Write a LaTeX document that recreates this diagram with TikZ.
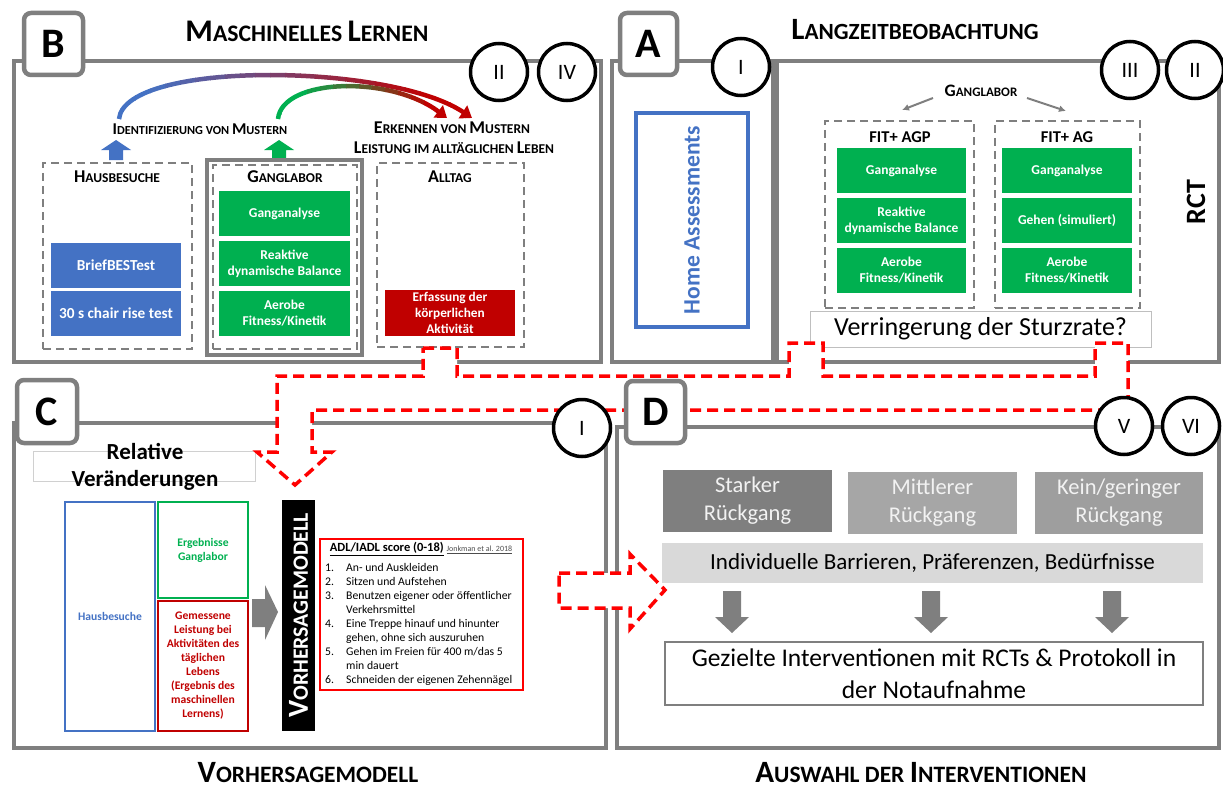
\documentclass[tikz,border=0pt]{standalone}
\usepackage{fontspec}
\setmainfont{Carlito}
\usetikzlibrary{arrows.meta,fit,calc}
\definecolor{fgray}{HTML}{7F7F7F}
\definecolor{cblue}{HTML}{4472C4}
\definecolor{cgreen}{HTML}{00B050}
\definecolor{cred}{HTML}{C00000}
\definecolor{redc}{HTML}{FF0000}
\definecolor{mgray}{HTML}{A6A6A6}
\definecolor{lgray}{HTML}{D9D9D9}
\definecolor{tlight}{HTML}{F2F2F2}
\definecolor{relgray}{HTML}{D0D0D0}
\definecolor{vgray}{HTML}{BFBFBF}
\newcommand\mysz[2]{{\fontsize{#1}{#1}\selectfont #2}}
\begin{document}
\begin{tikzpicture}[x=1pt,y=-1pt,every node/.style={inner sep=0pt},
  frame/.style={draw=fgray,line width=4.5pt},
  lblbox/.style={draw=fgray,line width=4.5pt,fill=white,rounded corners=7pt},
  lbltext/.style={font=\bfseries\fontsize{42}{42}\selectfont},
  numc/.style={circle,draw=black,line width=3.5pt,fill=white,minimum size=57pt,font=\fontsize{22}{22}\selectfont},
  dbox/.style={draw=fgray,line width=2.5pt,dash pattern=on 8pt off 5pt},
  gbox/.style={fill=cgreen},
  gtext/.style={text=white,align=center,font=\bfseries\fontsize{13.5}{16}\selectfont},
  btext/.style={text=white,font=\bfseries\fontsize{15.3}{16}\selectfont},
  dgtext/.style={text=tlight,align=center,font=\fontsize{22.5}{28}\selectfont},
  redarrow/.style={draw=redc,line width=3.5pt,dash pattern=on 11pt off 6pt,fill=white},
  cbox/.style={line width=2.5pt},
  ctext/.style={align=center,font=\bfseries\fontsize{11.6}{14}\selectfont},
  ttl/.style={font=\bfseries},
  thinarrow/.style={draw=fgray,line width=2pt,-{Latex[length=7pt,width=7pt]}}
]
\useasboundingbox (0,0) rectangle (1223,789);

% ================= Panel B =================
\draw[frame] (14,61) rectangle (601,362);
\node[ttl] (tB) at (307,31) {\mysz{31.5}{M}\mysz{23.7}{ASCHINELLES }\mysz{31.5}{L}\mysz{23.7}{ERNEN}};

\coordinate (ab1) at (119,119);
\coordinate (ab2) at (472,118);
\coordinate (ag1) at (278,119);
\coordinate (ag2) at (447,118);
\foreach \i in {0,...,25}{
  \pgfmathsetmacro\xa{105+\i*15}
  \pgfmathtruncatemacro\pc{max(0,min(100,100-(\xa+7-150)/2.8))}
  \begin{scope}
    \clip (\xa,50) rectangle ({\xa+15.5},130);
    \draw[line width=4.5pt,draw=cblue!\pc!cred,-{Triangle[length=11pt,width=15pt]}] (ab1) .. controls (125,60) and (390,63) .. (ab2);
  \end{scope}
}
\foreach \i in {0,...,14}{
  \pgfmathsetmacro\xa{268+\i*13}
  \pgfmathtruncatemacro\pc{max(0,min(100,100-(\xa+6-300)/1.3))}
  \begin{scope}
    \clip (\xa,60) rectangle ({\xa+13.5},130);
    \draw[line width=4.5pt,draw=cgreen!\pc!cred,-{Triangle[length=11pt,width=15pt]}] (ag1) .. controls (282,78) and (390,75) .. (ag2);
  \end{scope}
}

\node[ttl] (idm) at (200,129) {\mysz{16.5}{I}\mysz{12.3}{DENTIFIZIERUNG VON }\mysz{16.5}{M}\mysz{12.3}{USTERN}};
\node[ttl] (erk) at (452,128) {\mysz{18}{E}\mysz{13.5}{RKENNEN VON }\mysz{18}{M}\mysz{13.5}{USTERN}};
\node[ttl] (leist) at (454,148) {\mysz{18}{L}\mysz{13.5}{EISTUNG IM ALLTÄGLICHEN }\mysz{18}{L}\mysz{13.5}{EBEN}};

\fill[cblue] (109,160) -- (109,150) -- (101,150) -- (116,140) -- (131,150) -- (123,150) -- (123,160) -- cycle;
\fill[cgreen] (272,160) -- (272,150) -- (264,150) -- (279,140) -- (294,150) -- (286,150) -- (286,160) -- cycle;

\node[dbox,fit={(43,163)(192,349)}] (hbox) {};
\node[ttl] (hbt) at (117,177) {\mysz{18}{H}\mysz{13.5}{AUSBESUCHE}};
\node[fill=cblue,fit={(51,243)(181,288)}] (brief) {};
\node[btext] at (brief.center) {BriefBESTest};
\node[fill=cblue,fit={(51,291)(181,336)}] (chair) {};
\node[btext] at (chair.center) {30 s chair rise test};

\node[draw=fgray,line width=4pt,fit={(207,160)(362,355)}] (glout) {};
\node[dbox,fit={(213,165)(357,349)}] (glin) {};
\node[ttl] (glt) at (285,177) {\mysz{18}{G}\mysz{13.5}{ANGLABOR}};
\node[gbox,fit={(219,191)(350,236)}] (g1) {};
\node[gtext] at (g1.center) {Ganganalyse};
\node[gbox,fit={(219,241)(350,286)}] (g2) {};
\node[gtext] at (g2.center) {Reaktive\\dynamische Balance};
\node[gbox,fit={(219,291)(350,336)}] (g3) {};
\node[gtext] at (g3.center) {Aerobe\\Fitness/Kinetik};

\node[dbox,fit={(377,163)(524,347)}] (alb) {};
\node[ttl] (alt) at (450,177) {\mysz{18}{A}\mysz{13.5}{LLTAG}};
\node[fill=cred,fit={(385,290)(515,336)}] (erf) {};
\node[text=white,align=center,font=\bfseries\fontsize{13.3}{16}\selectfont] at (erf.center) {Erfassung der\\körperlichen\\Aktivität};

% ================= Panel A =================
\draw[frame] (612,61) rectangle (773,362);
\draw[frame] (777,61) rectangle (1219,362);
\node[ttl] (tA) at (915,30) {\mysz{31}{L}\mysz{23.2}{ANGZEITBEOBACHTUNG}};
\node[draw=cblue,line width=4pt,fit={(636,113)(748,327)}] (home) {};
\node[rotate=90,text=cblue,font=\bfseries\fontsize{23.5}{23.5}\selectfont] (homet) at (home.center) {Home Assessments};

\node[ttl] (gA) at (981,91) {\mysz{17.5}{G}\mysz{13}{ANGLABOR}};
\coordinate (ga1) at (933,98);
\coordinate (ga2) at (902,110);
\coordinate (ga3) at (1027,98);
\coordinate (ga4) at (1066,111);
\draw[thinarrow] (ga1) -- (ga2);
\draw[thinarrow] (ga3) -- (ga4);

\node[dbox,fit={(825,121)(974,308)}] (agp) {};
\node[font=\bfseries\fontsize{16.5}{16.5}\selectfont] (agpt) at (900,137) {FIT+ AGP};
\node[gbox,fit={(837,148)(966,193)}] (a1) {};
\node[gtext] at (a1.center) {Ganganalyse};
\node[gbox,fit={(837,198)(966,243)}] (a2) {};
\node[gtext] at (a2.center) {Reaktive\\dynamische Balance};
\node[gbox,fit={(837,248)(966,293)}] (a3) {};
\node[gtext] at (a3.center) {Aerobe\\Fitness/Kinetik};

\node[dbox,fit={(995,121)(1140,308)}] (ag) {};
\node[font=\bfseries\fontsize{16.5}{16.5}\selectfont] (agt) at (1067,137) {FIT+ AG};
\node[gbox,fit={(1002,148)(1132,193)}] (b1) {};
\node[gtext] at (b1.center) {Ganganalyse};
\node[gbox,fit={(1002,198)(1132,243)}] (b2) {};
\node[gtext] at (b2.center) {Gehen (simuliert)};
\node[gbox,fit={(1002,248)(1132,293)}] (b3) {};
\node[gtext] at (b3.center) {Aerobe\\Fitness/Kinetik};

\node[rotate=90,font=\bfseries\fontsize{28}{28}\selectfont] (rct) at (1196,202) {RCT};
\node[draw=vgray,line width=1pt,fill=white,fit={(810,311)(1151,347)}] (verr) {};
\node[font=\fontsize{26}{26}\selectfont] at (verr.center) {Verringerung der Sturzrate?};

% ================= Panel C =================
\draw[frame] (14,423) rectangle (606,748);
\node[draw=relgray,line width=1pt,fit={(33,451)(255,481)}] (relb) {};
\node[align=center,font=\bfseries\fontsize{23}{27}\selectfont] (relt) at (145,467) {Relative\\Veränderungen};
\node[cbox,draw=cblue,fit={(65,502)(155,731)}] (hbs) {};
\node[ctext,text=cblue] at (hbs.center) {Hausbesuche};
\node[cbox,draw=cgreen,fit={(158,502)(248,598)}] (erg) {};
\node[ctext,text=cgreen] at (erg.center) {Ergebnisse\\Ganglabor};
\node[cbox,draw=cred,fit={(158,601)(248,731)}] (gem) {};
\node[ctext,text=cred] at (gem.center) {Gemessene\\Leistung bei\\Aktivitäten des\\täglichen\\Lebens\\(Ergebnis des\\maschinellen\\Lernens)};
\fill[fgray] (252,599) -- (265,599) -- (265,585) -- (278,612) -- (265,640) -- (265,627) -- (252,627) -- cycle;
\node[fill=black,fit={(282,500)(315,731)}] (bar) {};
\node[rotate=90,text=white,font=\bfseries] (bart) at (bar.center) {\mysz{29}{V}\mysz{21.8}{ORHERSAGEMODELL}};

\node[draw=redc,line width=2pt,fit={(320,539)(523,690)}] (adl) {};
\node[font=\fontsize{12.5}{13}\selectfont] (adlt) at (421,549) {\textbf{\underline{ADL/IADL score (0-18)}} {\fontsize{8}{8}\selectfont\color{black!70}\underline{Jonkman et al. 2018}}};
\node[anchor=north west,align=left,font=\fontsize{11.7}{14}\selectfont] (adll) at (325,563) {%
\makebox[21pt][l]{1.}An- und Auskleiden\\
\makebox[21pt][l]{2.}Sitzen und Aufstehen\\
\makebox[21pt][l]{3.}Benutzen eigener oder öffentlicher\\
\hspace*{21pt}Verkehrsmittel\\
\makebox[21pt][l]{4.}Eine Treppe hinauf und hinunter\\
\hspace*{21pt}gehen, ohne sich auszuruhen\\
\makebox[21pt][l]{5.}Gehen im Freien für 400 m/das 5\\
\hspace*{21pt}min dauert\\
\makebox[21pt][l]{6.}Schneiden der eigenen Zehennägel};

\node[ttl] (tC) at (308,773) {\mysz{31}{V}\mysz{23.5}{ORHERSAGEMODELL}};

% ================= Panel D =================
\draw[frame] (617,427) rectangle (1219,748);
\node[fill=fgray,fit={(663,470)(832,532)}] (s1) {};
\node[dgtext] at (s1.center) {Starker\\Rückgang};
\node[fill=mgray,fit={(848,472)(1017,534)}] (s2) {};
\node[dgtext] at (s2.center) {Mittlerer\\Rückgang};
\node[fill=mgray!95!black,fit={(1035,472)(1203,534)}] (s3) {};
\node[dgtext] at (s3.center) {Kein/geringer\\Rückgang};
\node[fill=lgray,fit={(662,543)(1203,583)}] (indiv) {};
\node[font=\fontsize{23}{23}\selectfont] at (indiv.center) {Individuelle Barrieren, Präferenzen, Bedürfnisse};
\foreach \cx in {732,931,1112}{
  \fill[fgray] (\cx-9,591) -- (\cx+9,591) -- (\cx+9,617) -- (\cx+17,617) -- (\cx,633) -- (\cx-17,617) -- (\cx-9,617) -- cycle;
}
\node[draw=fgray,line width=2pt,fit={(665,642)(1203,705)}] (gez) {};
\node[align=center,font=\fontsize{25.5}{32}\selectfont] at (gez.center) {Gezielte Interventionen mit RCTs \& Protokoll in\\der Notaufnahme};
\node[ttl] (tD) at (921,773) {\mysz{31}{A}\mysz{23.5}{USWAHL DER }\mysz{31}{I}\mysz{23.5}{NTERVENTIONEN}};

% ================= red dashed arrows =================
\draw[redarrow] (423,348) -- (457,348) -- (457,376) -- (789,376) -- (789,343) -- (823,343) -- (823,376) -- (1095,376) -- (1095,343) -- (1128,343) -- (1128,410) -- (312,410) -- (312,452) -- (332,452) -- (295,485) -- (257,452) -- (277,452) -- (277,376) -- (423,376) -- cycle;
\draw[redarrow] (559,573) -- (630,573) -- (630,554) -- (665,590) -- (630,629) -- (630,608) -- (559,608) -- cycle;

% ================= label boxes and circles =================
\node[lblbox,fit={(24,13)(83,75)}] (lB) {};
\node[lbltext] at (lB.center) {B};
\node[lblbox,fit={(620,13)(677,75)}] (lA) {};
\node[lbltext] at (lA.center) {A};
\node[lblbox,fit={(17,380)(77,443)}] (lC) {};
\node[lbltext] at (lC.center) {C};
\node[lblbox,fit={(626,381)(685,443)}] (lD) {};
\node[lbltext] at (lD.center) {D};

\node[numc] (cB2) at (499,72) {II};
\node[numc] (cB4) at (567,72) {IV};
\node[numc] (cA1) at (741,67) {I};
\node[numc] (cA3) at (1130,70) {III};
\node[numc] (cA2) at (1195,70) {II};
\node[numc] (cC1) at (582,428) {I};
\node[numc] (cD5) at (1124,426) {V};
\node[numc] (cD6) at (1191,426) {VI};
\end{tikzpicture}
\end{document}
